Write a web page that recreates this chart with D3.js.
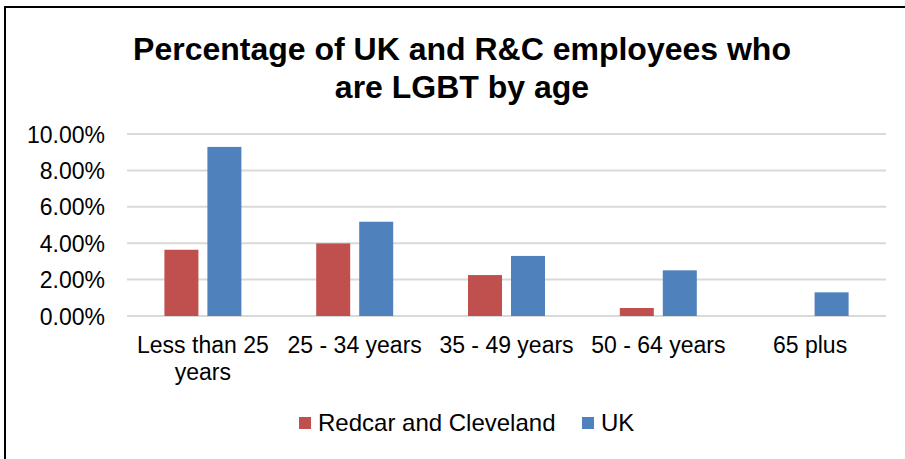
<!DOCTYPE html>
<html>
<head>
<meta charset="utf-8">
<script src="https://cdn.jsdelivr.net/npm/d3@7"></script>
<style>
  html, body { margin: 0; padding: 0; background: #fff; }
  svg { display: block; }
  text { font-family: "Liberation Sans", Arial, sans-serif; fill: #000; }
</style>
</head>
<body>
<svg id="chart" width="905" height="459"></svg>
<script>
const categories = ["Less than 25 years", "25 - 34 years", "35 - 49 years", "50 - 64 years", "65 plus"];
const categoryLines = [["Less than 25", "years"], ["25 - 34 years"], ["35 - 49 years"], ["50 - 64 years"], ["65 plus"]];
const seriesNames = ["Redcar and Cleveland", "UK"];
const redcarValues = [3.64, 3.99, 2.25, 0.44, 0];
const ukValues = [9.29, 5.18, 3.30, 2.51, 1.30];
const yTicks = [0, 2, 4, 6, 8, 10];
const colors = ["#C0504D", "#4F81BD"];
const titleLines = ["Percentage of UK and R&C employees who", "are LGBT by age"];

const svg = d3.select("#chart");

// Border (top and left visible)
svg.append("line").attr("x1", 4).attr("x2", 905).attr("y1", 7).attr("y2", 7)
  .attr("stroke", "#000").attr("stroke-width", 2);
svg.append("line").attr("x1", 5).attr("x2", 5).attr("y1", 6).attr("y2", 459)
  .attr("stroke", "#000").attr("stroke-width", 2);

const plot = { left: 127, right: 886, top: 134, bottom: 316 };
const fs = 23;

const y = d3.scaleLinear().domain([0, 10]).range([plot.bottom, plot.top]);
const x0 = d3.scaleBand().domain(categories).range([plot.left, plot.right]).padding(0);
const groupW = 77;
const x1 = d3.scaleBand().domain(seriesNames)
  .range([(x0.bandwidth() - groupW) / 2, (x0.bandwidth() + groupW) / 2])
  .paddingInner(0.209).paddingOuter(0);

// Gridlines
svg.append("g").selectAll("line").data(yTicks).join("line")
  .attr("x1", plot.left).attr("x2", plot.right)
  .attr("y1", d => y(d)).attr("y2", d => y(d))
  .attr("stroke", "#D9D9D9").attr("stroke-width", 2);

// Y axis labels
const yAxis = d3.axisLeft(y).tickValues(yTicks).tickSize(0).tickPadding(0)
  .tickFormat(d => d.toFixed(2) + "%");
const yg = svg.append("g").attr("transform", `translate(105,0)`).call(yAxis);
yg.select(".domain").remove();
yg.selectAll("text").attr("font-size", fs).attr("font-family", "Liberation Sans, Arial, sans-serif")
  .attr("fill", "#000").attr("dy", "0.35em");

// Bars
const data = categories.map((c, i) => ({ cat: c, vals: [redcarValues[i], ukValues[i]] }));
const groups = svg.append("g").selectAll("g").data(data).join("g")
  .attr("transform", d => `translate(${x0(d.cat)},0)`);
groups.selectAll("rect").data(d => d.vals.map((v, j) => ({ name: seriesNames[j], v, j })))
  .join("rect")
  .attr("x", d => x1(d.name))
  .attr("width", x1.bandwidth())
  .attr("y", d => y(d.v))
  .attr("height", d => y(0) - y(d.v))
  .attr("fill", d => colors[d.j]);

// X labels
const xl = svg.append("g").selectAll("text").data(categories).join("text")
  .attr("x", d => x0(d) + x0.bandwidth() / 2)
  .attr("y", 353)
  .attr("text-anchor", "middle")
  .attr("font-size", fs);
xl.each(function(d, i) {
  const t = d3.select(this);
  categoryLines[i].forEach((line, k) => {
    t.append("tspan").attr("x", x0(d) + x0.bandwidth() / 2)
      .attr("dy", k === 0 ? 0 : 27).text(line);
  });
});

// Title
svg.append("g").selectAll("text").data(titleLines).join("text")
  .attr("x", 462).attr("y", (d, i) => 60 + i * 38)
  .attr("text-anchor", "middle")
  .attr("font-size", 32).attr("font-weight", "bold")
  .text(d => d);

// Legend
const legendX = [299, 582];
const leg = svg.append("g").selectAll("g").data(seriesNames).join("g")
  .attr("transform", (d, i) => `translate(${legendX[i]},417)`);
leg.append("rect").attr("width", 12).attr("height", 12).attr("fill", (d, i) => colors[i]);
leg.append("text").attr("x", 19).attr("y", 14).attr("font-size", 24).text(d => d);
</script>
</body>
</html>
